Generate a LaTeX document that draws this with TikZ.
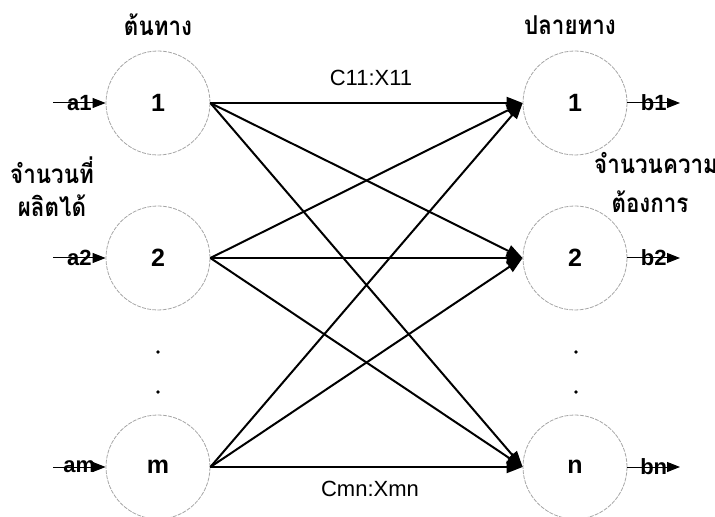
\documentclass[tikz,border=0pt]{standalone}
\usepackage{fontspec}
\setmainfont{Liberation Sans}
\newfontfamily\thaifont[Script=Thai,FakeStretch=0.86]{Loma}
\usetikzlibrary{arrows.meta}

\begin{document}
\begin{tikzpicture}[x=0.5pt,y=-0.5pt,
  site/.style={circle,draw=gray!70,thin,dash pattern=on 2pt off 0.6pt,
    minimum size=52pt,inner sep=0pt,font=\bfseries\fontsize{12.5}{14}\selectfont},
  route/.style={line width=1pt,-{Triangle[length=8pt,width=6pt]}},
  feed/.style={line width=0.5pt,-{Triangle[length=6.5pt,width=5pt]}},
  qty/.style={font=\bfseries\fontsize{11}{13}\selectfont,inner sep=0pt},
  cost/.style={font=\fontsize{11}{13}\selectfont,inner sep=0pt},
  thai/.style={font=\thaifont\bfseries\fontsize{13}{15}\selectfont,inner sep=0pt},
  gap/.style={circle,fill=black,inner sep=0pt,minimum size=1.8pt}]
  \useasboundingbox (0,0) rectangle (715,517);
  % sources
  \node[site] (L1) at (158,103) {1};
  \node[site] (L2) at (158,258) {2};
  \node[site] (Lm) at (158,467) {m};
  % destinations
  \node[site] (R1) at (575,103) {1};
  \node[site] (R2) at (575,258) {2};
  \node[site] (Rn) at (575,467) {n};
  % routes
  \foreach \s in {L1,L2,Lm}
    \foreach \d in {R1,R2,Rn}
      \draw[route] (\s.east) -- (\d.west);
  \node[cost] (c11) at (371,78) {C11:X11};
  \node[cost] (cmn) at (370,489) {Cmn:Xmn};
  % supplies and demands
  \foreach \s/\t/\y in {L1/a1/103,L2/a2/258,Lm/am/467} {
    \coordinate (in\s) at (53,\y);
    \draw[feed] (in\s) -- node[qty]{\t} (\s.west);
  }
  \foreach \d/\t/\y in {R1/b1/103,R2/b2/258,Rn/bn/467} {
    \coordinate (out\d) at (680,\y);
    \draw[feed] (\d.east) -- node[qty]{\t} (out\d);
  }
  % dots
  \node[gap] (gl1) at (158,352) {};
  \node[gap] (gl2) at (158,392) {};
  \node[gap] (gr1) at (576,352) {};
  \node[gap] (gr2) at (576,392) {};
  % headings
  \node[thai] (src) at (158,25) {ต้นทาง};
  \node[thai] (dst) at (570,25) {ปลายทาง};
  \node[thai] (sup1) at (52,170) {จำนวนที่};
  \node[thai] (sup2) at (52,206) {ผลิตได้};
  \node[thai] (dem1) at (656,163) {จำนวนความ};
  \node[thai] (dem2) at (650,202) {ต้องการ};
\end{tikzpicture}
\end{document}
